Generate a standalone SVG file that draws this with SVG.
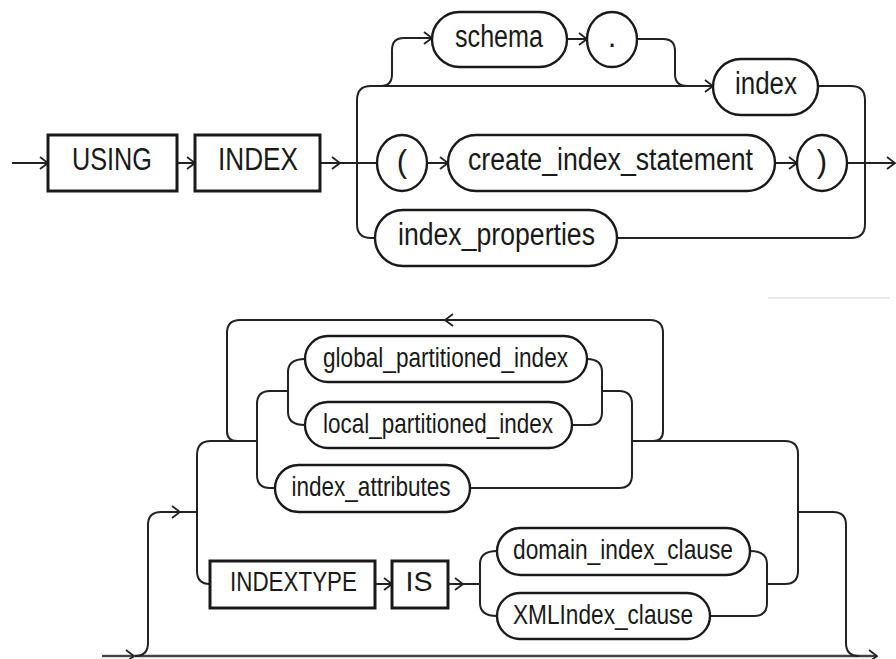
<svg xmlns="http://www.w3.org/2000/svg" width="896" height="659" viewBox="0 0 896 659">
  <style>
    .bg { fill: #ffffff; }
    .line { fill: none; stroke: #222; stroke-width: 2; stroke-linejoin: round; }
    .base { fill: none; stroke: #444; stroke-width: 2.4; }
    .kw { fill: #ffffff; stroke: #1a1a1a; stroke-width: 3; }
    .nt { fill: #ffffff; stroke: #1a1a1a; stroke-width: 2.4; }
    .t1 { font-family: "Liberation Sans", Arial, sans-serif; font-size: 31px; fill: #1a1a1a; text-anchor: middle; }
    .t2 { font-family: "Liberation Sans", Arial, sans-serif; font-size: 27.5px; fill: #1a1a1a; text-anchor: middle; }
    .faint { fill: none; stroke: #e2e2e2; stroke-width: 1.5; }
  </style>
  <defs>
    <marker id="arr" viewBox="0 0 10 14" refX="9" refY="7" markerWidth="10" markerHeight="14" markerUnits="userSpaceOnUse" orient="auto">
      <path d="M1,1 L9,7 L1,13" fill="none" stroke="#222" stroke-width="1.8"/>
    </marker>
  </defs>

  <rect class="bg" x="0" y="0" width="896" height="659"/>

  <!-- connectors -->
  <g id="connectors">
    <!-- USING INDEX clause -->
    <path class="line" d="M12,163 H48" marker-end="url(#arr)"/>
    <path class="line" d="M177,163 H195" marker-end="url(#arr)"/>
    <path class="line" d="M320,163 H340" marker-end="url(#arr)"/>
    <path class="line" d="M340,163 H377"/>
    <path class="line" d="M427,163 H448" marker-end="url(#arr)"/>
    <path class="line" d="M775,163 H797" marker-end="url(#arr)"/>
    <path class="line" d="M847,163 H895" marker-end="url(#arr)"/>
    <path class="line" d="M357,163 V100 Q357,86 371,86 H713" marker-end="url(#arr)"/>
    <path class="line" d="M357,163 V224 Q357,238 371,238 H375"/>
    <path class="line" d="M381,86 Q392,86 392,74 V50 Q392,38 404,38 H432" marker-end="url(#arr)"/>
    <path class="line" d="M567,39 H587" marker-end="url(#arr)"/>
    <path class="line" d="M637,39 H663 Q675,39 675,51 V74 Q675,86 687,86"/>
    <path class="line" d="M818,86 H851 Q865,86 865,100 V224 Q865,238 851,238 H617"/>

    <!-- index properties -->
    <path class="base" d="M102,656 H134" marker-end="url(#arr)"/>
    <path class="base" d="M134,656 H877" marker-end="url(#arr)"/>
    <path class="line" d="M135,656 Q148,656 148,643 V525 Q148,512 161,512 H180" marker-end="url(#arr)"/>
    <path class="line" d="M180,512 H197"/>
    <path class="line" d="M257,441 H211 Q197,441 197,455 V571 Q197,584 210,584"/>
    <path class="line" d="M653,441 Q663,441 663,431 V333 Q663,320 650,320 H445" marker-end="url(#arr)"/>
    <path class="line" d="M445,320 H240 Q227,320 227,333 V431 Q227,441 237,441"/>
    <path class="line" d="M288,391 H270 Q257,391 257,404 V475 Q257,488 270,488 H275"/>
    <path class="line" d="M305,359 Q288,359 288,372 V412 Q288,425 305,425"/>
    <path class="line" d="M587,359 Q602,359 602,372 V412 Q602,425 589,425 H572"/>
    <path class="line" d="M602,391 H619 Q632,391 632,404 V475 Q632,488 619,488 H470"/>
    <path class="line" d="M632,441 H785 Q798,441 798,454 V571 Q798,584 785,584 H767"/>
    <path class="line" d="M798,512 H833 Q846,512 846,525 V643 Q846,656 859,656"/>
    <path class="line" d="M375,584 H392" marker-end="url(#arr)"/>
    <path class="line" d="M448,584 H463" marker-end="url(#arr)"/>
    <path class="line" d="M463,584 H480"/>
    <path class="line" d="M497,551 Q480,551 480,564 V603 Q480,616 497,616"/>
    <path class="line" d="M750,551 Q767,551 767,564 V603 Q767,616 754,616 H710"/>
  </g>

  <line class="faint" x1="768" y1="298" x2="890" y2="298"/>

  <!-- nodes -->
  <g id="node-using">
    <rect class="kw" x="48" y="135" width="129" height="56"/>
    <text class="t1" x="112" y="170" textLength="80" lengthAdjust="spacingAndGlyphs">USING</text>
  </g>
  <g id="node-index-kw">
    <rect class="kw" x="195" y="135" width="125" height="56"/>
    <text class="t1" x="258" y="170" textLength="80" lengthAdjust="spacingAndGlyphs">INDEX</text>
  </g>
  <g id="node-schema">
    <rect class="nt" x="432" y="12" width="135" height="55" rx="27.5" ry="27.5"/>
    <text class="t1" x="499" y="46.5" textLength="88" lengthAdjust="spacingAndGlyphs">schema</text>
  </g>
  <g id="node-dot">
    <rect class="nt" x="587" y="12" width="50" height="55" rx="25" ry="27.5"/>
    <text class="t1" x="612" y="47">.</text>
  </g>
  <g id="node-index">
    <rect class="nt" x="713" y="59" width="105" height="56" rx="28" ry="28"/>
    <text class="t1" x="766" y="94" textLength="62" lengthAdjust="spacingAndGlyphs">index</text>
  </g>
  <g id="node-lparen">
    <rect class="nt" x="377" y="135" width="50" height="56" rx="25" ry="28"/>
    <text class="t1" x="402" y="172">(</text>
  </g>
  <g id="node-create-index-statement">
    <rect class="nt" x="448" y="135" width="327" height="56" rx="28" ry="28"/>
    <text class="t1" x="610.5" y="170" textLength="285" lengthAdjust="spacingAndGlyphs">create_index_statement</text>
  </g>
  <g id="node-rparen">
    <rect class="nt" x="797" y="135" width="50" height="56" rx="25" ry="28"/>
    <text class="t1" x="822" y="172">)</text>
  </g>
  <g id="node-index-properties">
    <rect class="nt" x="375" y="210" width="242" height="56" rx="28" ry="28"/>
    <text class="t1" x="496.5" y="245" textLength="197" lengthAdjust="spacingAndGlyphs">index_properties</text>
  </g>

  <g id="node-global-partitioned-index">
    <rect class="nt" x="305" y="336" width="282" height="46" rx="23" ry="23"/>
    <text class="t2" x="445.5" y="366.5" textLength="245" lengthAdjust="spacingAndGlyphs">global_partitioned_index</text>
  </g>
  <g id="node-local-partitioned-index">
    <rect class="nt" x="305" y="402" width="267" height="46" rx="23" ry="23"/>
    <text class="t2" x="438" y="432.5" textLength="230" lengthAdjust="spacingAndGlyphs">local_partitioned_index</text>
  </g>
  <g id="node-index-attributes">
    <rect class="nt" x="275" y="465" width="195" height="47" rx="23.5" ry="23.5"/>
    <text class="t2" x="371" y="495.5" textLength="159" lengthAdjust="spacingAndGlyphs">index_attributes</text>
  </g>
  <g id="node-indextype">
    <rect class="kw" x="210" y="561" width="165" height="47"/>
    <text class="t2" x="293.5" y="591" textLength="127" lengthAdjust="spacingAndGlyphs">INDEXTYPE</text>
  </g>
  <g id="node-is">
    <rect class="kw" x="392" y="561" width="56" height="47"/>
    <text class="t2" x="419" y="591" textLength="27" lengthAdjust="spacingAndGlyphs">IS</text>
  </g>
  <g id="node-domain-index-clause">
    <rect class="nt" x="497" y="528" width="253" height="47" rx="23.5" ry="23.5"/>
    <text class="t2" x="623" y="559" textLength="220" lengthAdjust="spacingAndGlyphs">domain_index_clause</text>
  </g>
  <g id="node-xmlindex-clause">
    <rect class="nt" x="497" y="593" width="213" height="46" rx="23" ry="23"/>
    <text class="t2" x="603" y="623.5" textLength="180" lengthAdjust="spacingAndGlyphs">XMLIndex_clause</text>
  </g>
</svg>
